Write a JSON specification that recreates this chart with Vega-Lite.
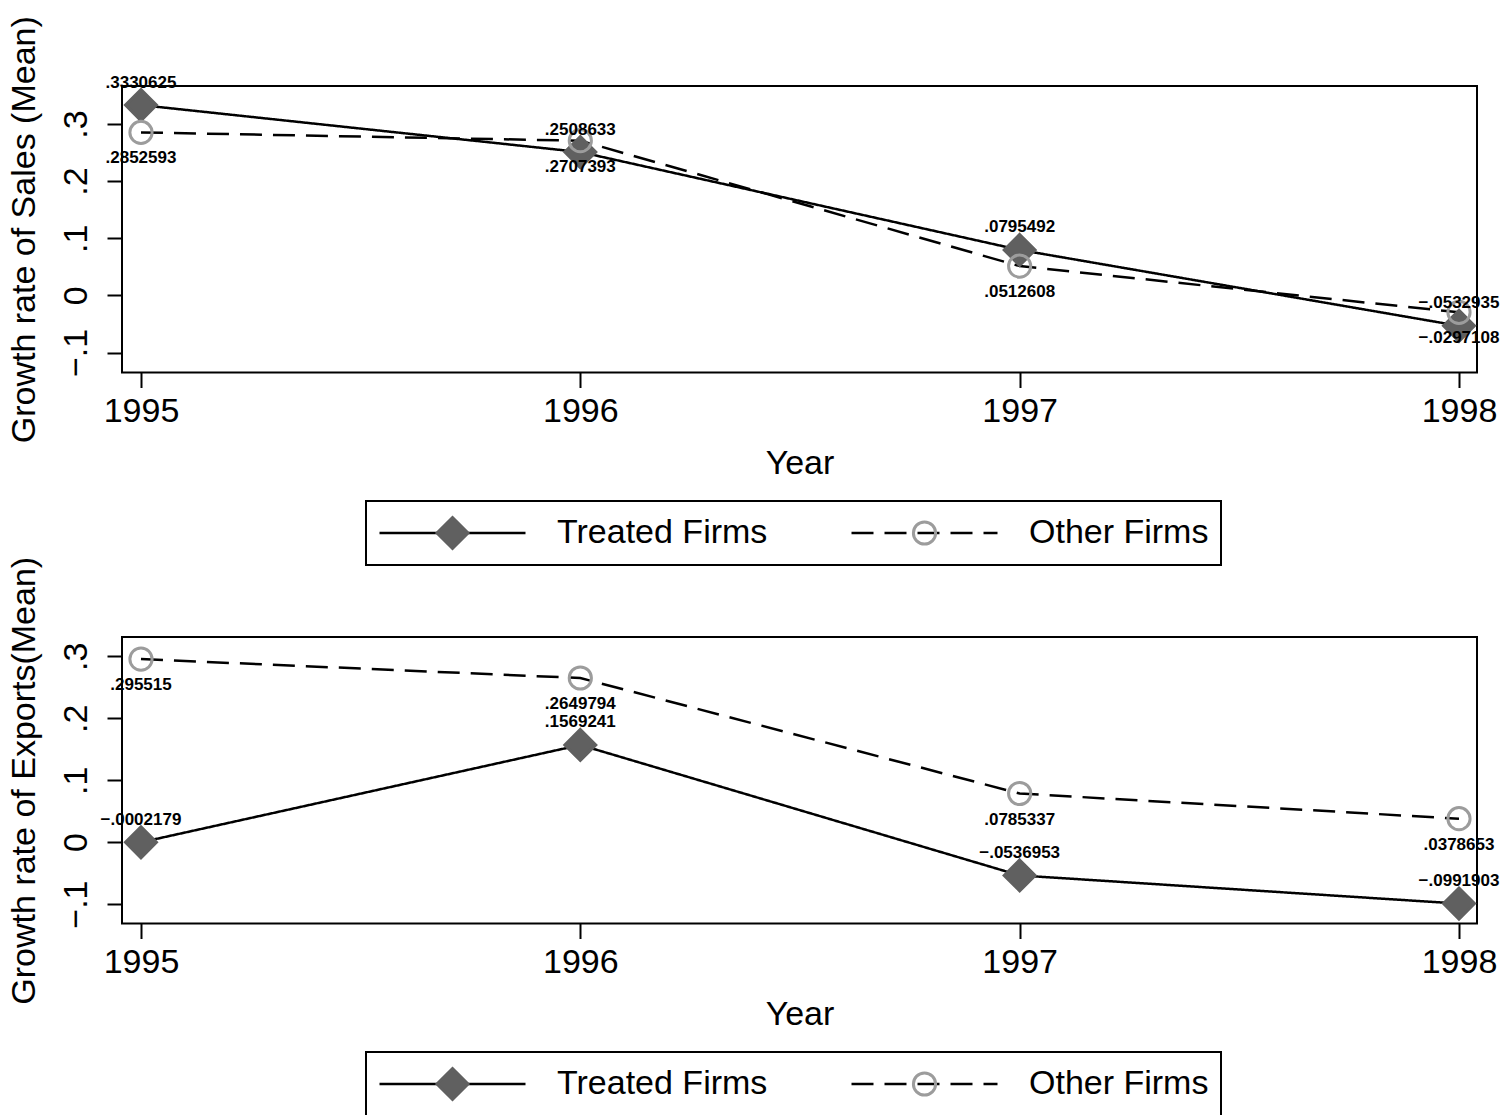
{
  "$schema": "https://vega.github.io/schema/vega-lite/v6.json",
  "background": "white",
  "padding": {"left": 5, "top": 14, "right": 0, "bottom": 0},
  "bounds": "flush",
  "spacing": 264,
  "datasets": {
    "rows": [
      {"panel": "Sales", "year": 1995, "firm": "Treated Firms", "value": 0.3330625, "label": ".3330625"},
      {"panel": "Sales", "year": 1996, "firm": "Treated Firms", "value": 0.2508633, "label": ".2508633"},
      {"panel": "Sales", "year": 1997, "firm": "Treated Firms", "value": 0.0795492, "label": ".0795492"},
      {"panel": "Sales", "year": 1998, "firm": "Treated Firms", "value": -0.0532935, "label": "−.0532935"},
      {"panel": "Sales", "year": 1995, "firm": "Other Firms", "value": 0.2852593, "label": ".2852593"},
      {"panel": "Sales", "year": 1996, "firm": "Other Firms", "value": 0.2707393, "label": ".2707393"},
      {"panel": "Sales", "year": 1997, "firm": "Other Firms", "value": 0.0512608, "label": ".0512608"},
      {"panel": "Sales", "year": 1998, "firm": "Other Firms", "value": -0.0297108, "label": "−.0297108"},
      {"panel": "Exports", "year": 1995, "firm": "Treated Firms", "value": -0.0002179, "label": "−.0002179"},
      {"panel": "Exports", "year": 1996, "firm": "Treated Firms", "value": 0.1569241, "label": ".1569241"},
      {"panel": "Exports", "year": 1997, "firm": "Treated Firms", "value": -0.0536953, "label": "−.0536953"},
      {"panel": "Exports", "year": 1998, "firm": "Treated Firms", "value": -0.0991903, "label": "−.0991903"},
      {"panel": "Exports", "year": 1995, "firm": "Other Firms", "value": 0.295515, "label": ".295515"},
      {"panel": "Exports", "year": 1996, "firm": "Other Firms", "value": 0.2649794, "label": ".2649794"},
      {"panel": "Exports", "year": 1997, "firm": "Other Firms", "value": 0.0785337, "label": ".0785337"},
      {"panel": "Exports", "year": 1998, "firm": "Other Firms", "value": 0.0378653, "label": ".0378653"}
    ]
  },
  "resolve": {"scale": {"strokeDash": "independent", "shape": "independent", "fill": "independent", "stroke": "independent"}},
  "vconcat": [
    {
      "width": 1355,
      "height": 286.5,
      "data": {"name": "rows"},
      "transform": [{"filter": "datum.panel === 'Sales'"}],
      "encoding": {
        "x": {"field": "year", "type": "quantitative", "scale": {"domain": [1994.9568, 1998.041], "nice": false, "zero": false}, "axis": {"values": [1995, 1996, 1997, 1998], "format": "d", "title": "Year"}},
        "y": {"field": "value", "type": "quantitative", "scale": {"domain": [-0.135, 0.3665], "nice": false, "zero": false}, "axis": {"values": [-0.1, 0, 0.1, 0.2, 0.3], "labelExpr": "replace(format(datum.value, '.1~f'), '0.', '.')", "title": "Growth rate of Sales (Mean)"}}
      },
      "layer": [
        {
          "mark": {"type": "line", "color": "black", "strokeWidth": 2.5},
          "encoding": {
            "strokeDash": {"field": "firm", "type": "nominal", "sort": "descending", "scale": {"range": [[1, 0], [22, 11]]},
              "legend": {"orient": "none", "legendX": 244, "legendY": 415, "direction": "horizontal", "title": null, "symbolType": "M-1,0H1M0,-0.25M0,0.25", "symbolSize": 21316, "symbolStrokeWidth": 2.5, "symbolStrokeColor": "black", "symbolFillColor": "transparent", "clipHeight": 40, "labelFont": "Liberation Sans", "labelFontSize": 34, "labelColor": "black", "labelOffset": 30, "labelLimit": 0, "columnPadding": 82, "padding": 12, "strokeColor": "black", "fillColor": "white", "zindex": 0, "encode": {"legend": {"update": {"strokeWidth": {"value": 2}}}}}}
          }
        },
        {
          "mark": {"type": "point", "opacity": 1, "strokeWidth": 3, "size": 21316, "clip": true},
          "encoding": {
            "shape": {"field": "firm", "type": "nominal", "scale": {"domain": ["Treated Firms", "Other Firms"], "range": ["M-1,0M1,0M0,-0.25M0,0.25M0,-0.212L0.212,0L0,0.212L-0.212,0Z", "M-1,0M1,0M0,-0.25M0,0.25M0.152,0A0.152,0.152,0,1,1,-0.152,0A0.152,0.152,0,1,1,0.152,0Z"]},
              "legend": {"orient": "none", "legendX": 244, "legendY": 415, "direction": "horizontal", "title": null, "symbolSize": 21316, "symbolStrokeWidth": 3, "clipHeight": 40, "labelFont": "Liberation Sans", "labelFontSize": 34, "labelOpacity": 0, "labelOffset": 30, "labelLimit": 0, "columnPadding": 82, "padding": 12, "zindex": 1}},
            "fill": {"field": "firm", "type": "nominal", "scale": {"domain": ["Treated Firms", "Other Firms"], "range": ["#606060", "transparent"]},
              "legend": {"orient": "none", "legendX": 244, "legendY": 415, "direction": "horizontal", "title": null, "symbolSize": 21316, "symbolStrokeWidth": 3, "clipHeight": 40, "labelFont": "Liberation Sans", "labelFontSize": 34, "labelOpacity": 0, "labelOffset": 30, "labelLimit": 0, "columnPadding": 82, "padding": 12, "zindex": 1}},
            "stroke": {"field": "firm", "type": "nominal", "scale": {"domain": ["Treated Firms", "Other Firms"], "range": ["#606060", "#9c9c9c"]},
              "legend": {"orient": "none", "legendX": 244, "legendY": 415, "direction": "horizontal", "title": null, "symbolSize": 21316, "symbolStrokeWidth": 3, "clipHeight": 40, "labelFont": "Liberation Sans", "labelFontSize": 34, "labelOpacity": 0, "labelOffset": 30, "labelLimit": 0, "columnPadding": 82, "padding": 12, "zindex": 1}}
          }
        },
        {
          "transform": [{"filter": "datum.firm === 'Treated Firms'"}],
          "mark": {"type": "text", "font": "Liberation Sans", "fontWeight": "bold", "fontSize": 17, "color": "black", "align": "center", "baseline": "alphabetic", "dy": -17.5},
          "encoding": {"text": {"field": "label"}}
        },
        {
          "transform": [{"filter": "datum.firm === 'Other Firms'"}],
          "mark": {"type": "text", "font": "Liberation Sans", "fontWeight": "bold", "fontSize": 17, "color": "black", "align": "center", "baseline": "alphabetic", "dy": 31},
          "encoding": {"text": {"field": "label"}}
        }
      ]
    },
    {
      "width": 1355,
      "height": 286.5,
      "data": {"name": "rows"},
      "transform": [{"filter": "datum.panel === 'Exports'"}],
      "encoding": {
        "x": {"field": "year", "type": "quantitative", "scale": {"domain": [1994.9568, 1998.041], "nice": false, "zero": false}, "axis": {"values": [1995, 1996, 1997, 1998], "format": "d", "title": "Year"}},
        "y": {"field": "value", "type": "quantitative", "scale": {"domain": [-0.1313, 0.3312], "nice": false, "zero": false}, "axis": {"values": [-0.1, 0, 0.1, 0.2, 0.3], "labelExpr": "replace(format(datum.value, '.1~f'), '0.', '.')", "title": "Growth rate of Exports(Mean)"}}
      },
      "layer": [
        {
          "mark": {"type": "line", "color": "black", "strokeWidth": 2.5},
          "encoding": {
            "strokeDash": {"field": "firm", "type": "nominal", "sort": "descending", "scale": {"range": [[1, 0], [22, 11]]},
              "legend": {"orient": "none", "legendX": 244, "legendY": 415, "direction": "horizontal", "title": null, "symbolType": "M-1,0H1M0,-0.25M0,0.25", "symbolSize": 21316, "symbolStrokeWidth": 2.5, "symbolStrokeColor": "black", "symbolFillColor": "transparent", "clipHeight": 40, "labelFont": "Liberation Sans", "labelFontSize": 34, "labelColor": "black", "labelOffset": 30, "labelLimit": 0, "columnPadding": 82, "padding": 12, "strokeColor": "black", "fillColor": "white", "zindex": 0, "encode": {"legend": {"update": {"strokeWidth": {"value": 2}}}}}}
          }
        },
        {
          "mark": {"type": "point", "opacity": 1, "strokeWidth": 3, "size": 21316, "clip": true},
          "encoding": {
            "shape": {"field": "firm", "type": "nominal", "scale": {"domain": ["Treated Firms", "Other Firms"], "range": ["M-1,0M1,0M0,-0.25M0,0.25M0,-0.212L0.212,0L0,0.212L-0.212,0Z", "M-1,0M1,0M0,-0.25M0,0.25M0.152,0A0.152,0.152,0,1,1,-0.152,0A0.152,0.152,0,1,1,0.152,0Z"]},
              "legend": {"orient": "none", "legendX": 244, "legendY": 415, "direction": "horizontal", "title": null, "symbolSize": 21316, "symbolStrokeWidth": 3, "clipHeight": 40, "labelFont": "Liberation Sans", "labelFontSize": 34, "labelOpacity": 0, "labelOffset": 30, "labelLimit": 0, "columnPadding": 82, "padding": 12, "zindex": 1}},
            "fill": {"field": "firm", "type": "nominal", "scale": {"domain": ["Treated Firms", "Other Firms"], "range": ["#606060", "transparent"]},
              "legend": {"orient": "none", "legendX": 244, "legendY": 415, "direction": "horizontal", "title": null, "symbolSize": 21316, "symbolStrokeWidth": 3, "clipHeight": 40, "labelFont": "Liberation Sans", "labelFontSize": 34, "labelOpacity": 0, "labelOffset": 30, "labelLimit": 0, "columnPadding": 82, "padding": 12, "zindex": 1}},
            "stroke": {"field": "firm", "type": "nominal", "scale": {"domain": ["Treated Firms", "Other Firms"], "range": ["#606060", "#9c9c9c"]},
              "legend": {"orient": "none", "legendX": 244, "legendY": 415, "direction": "horizontal", "title": null, "symbolSize": 21316, "symbolStrokeWidth": 3, "clipHeight": 40, "labelFont": "Liberation Sans", "labelFontSize": 34, "labelOpacity": 0, "labelOffset": 30, "labelLimit": 0, "columnPadding": 82, "padding": 12, "zindex": 1}}
          }
        },
        {
          "transform": [{"filter": "datum.firm === 'Treated Firms'"}],
          "mark": {"type": "text", "font": "Liberation Sans", "fontWeight": "bold", "fontSize": 17, "color": "black", "align": "center", "baseline": "alphabetic", "dy": -17.5},
          "encoding": {"text": {"field": "label"}}
        },
        {
          "transform": [{"filter": "datum.firm === 'Other Firms'"}],
          "mark": {"type": "text", "font": "Liberation Sans", "fontWeight": "bold", "fontSize": 17, "color": "black", "align": "center", "baseline": "alphabetic", "dy": 31},
          "encoding": {"text": {"field": "label"}}
        }
      ]
    }
  ],
  "config": {
    "font": "Liberation Sans",
    "view": {"stroke": "black", "strokeWidth": 2},
    "axis": {"domain": false, "grid": false, "tickColor": "black", "tickWidth": 2, "tickSize": 15, "labelFont": "Liberation Sans", "labelFontSize": 34, "labelColor": "black", "labelFlush": false, "labelOverlap": false, "titleFont": "Liberation Sans", "titleFontSize": 34, "titleFontWeight": "normal", "titleColor": "black"},
    "axisX": {"labelAngle": 0, "labelBaseline": "alphabetic", "labelPadding": 34, "titlePadding": 18},
    "axisY": {"labelAngle": 270, "labelAlign": "center", "labelBaseline": "alphabetic", "labelPadding": 21, "titlePadding": 18}
  }
}
